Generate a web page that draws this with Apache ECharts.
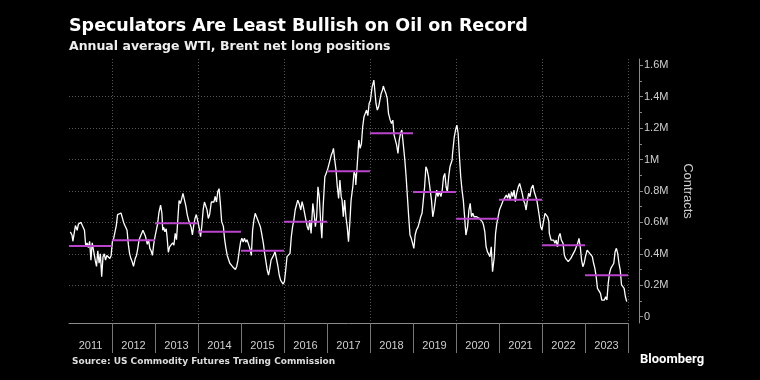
<!DOCTYPE html>
<html><head><meta charset="utf-8">
<script src="https://cdn.jsdelivr.net/npm/echarts@6/dist/echarts.min.js"></script>
<style>html,body{margin:0;padding:0;background:#000;}#chart{width:760px;height:380px;}</style>
</head><body><div id="chart"></div>
<script>
// Year categories and annual average net long (millions of contracts)
const yearLabels = ['2011','2012','2013','2014','2015','2016','2017','2018','2019','2020','2021','2022','2023'];
const annualAvgM = [0.450,0.487,0.595,0.540,0.420,0.605,0.926,1.168,0.793,0.624,0.745,0.455,0.264];
// y-axis tick labels (millions)
const yTickValues = [0,0.2,0.4,0.6,0.8,1,1.2,1.4,1.6];
// weekly positions (decimal year) and net long (millions of contracts)
const weekPos = [
2011.03,2011.07,2011.09,2011.12,2011.15,2011.19,2011.22,2011.25,2011.28,2011.31,2011.34,2011.36,2011.39,2011.42,2011.45,2011.48,2011.51,2011.54,2011.57,2011.61,2011.64,2011.67,2011.70,2011.73,2011.76,2011.79,2011.82,2011.85,2011.88,2011.92,2011.95,2011.98,
2012.01,2012.04,2012.07,2012.10,2012.13,2012.16,2012.21,2012.24,2012.27,2012.30,2012.33,2012.35,2012.38,2012.41,2012.44,2012.47,2012.50,2012.54,2012.57,2012.60,2012.63,2012.66,2012.69,2012.72,2012.75,2012.78,2012.82,2012.85,2012.88,2012.91,2012.94,2012.97,
2013.00,2013.03,2013.06,2013.09,2013.13,2013.16,2013.18,2013.20,2013.23,2013.26,2013.28,2013.31,2013.34,2013.37,2013.41,2013.44,2013.47,2013.50,2013.53,2013.56,2013.59,2013.62,2013.65,2013.68,2013.72,2013.75,2013.78,2013.81,2013.84,2013.87,2013.90,2013.93,2013.96,2013.99,
2014.03,2014.06,2014.09,2014.12,2014.15,2014.18,2014.21,2014.24,2014.27,2014.31,2014.34,2014.37,2014.40,2014.43,2014.46,2014.49,2014.52,2014.55,2014.59,2014.62,2014.65,2014.68,2014.71,2014.74,2014.77,2014.80,2014.83,2014.87,2014.90,2014.93,2014.96,2014.99,
2015.02,2015.05,2015.08,2015.11,2015.14,2015.17,2015.21,2015.24,2015.27,2015.30,2015.33,2015.36,2015.39,2015.42,2015.45,2015.48,2015.52,2015.55,2015.58,2015.61,2015.64,2015.67,2015.70,2015.73,2015.76,2015.79,2015.83,2015.86,2015.89,2015.92,2015.95,2015.98,
2016.01,2016.04,2016.07,2016.11,2016.14,2016.17,2016.20,2016.23,2016.26,2016.29,2016.32,2016.35,2016.39,2016.42,2016.45,2016.48,2016.51,2016.54,2016.57,2016.60,2016.63,2016.67,2016.70,2016.73,2016.76,2016.79,2016.82,2016.85,2016.88,2016.91,2016.95,2016.98,
2017.01,2017.04,2017.07,2017.10,2017.13,2017.15,2017.18,2017.21,2017.24,2017.27,2017.30,2017.33,2017.35,2017.38,2017.41,2017.44,2017.47,2017.50,2017.53,2017.56,2017.60,2017.63,2017.66,2017.67,2017.70,2017.74,2017.77,2017.80,2017.83,2017.86,2017.89,2017.92,2017.95,2017.98,
2018.01,2018.05,2018.09,2018.11,2018.14,2018.17,2018.20,2018.23,2018.26,2018.29,2018.31,2018.34,2018.37,2018.40,2018.43,2018.47,2018.50,2018.53,2018.56,2018.59,2018.62,2018.65,2018.68,2018.71,2018.74,2018.78,2018.81,2018.84,2018.87,2018.90,2018.93,2018.96,2018.99,
2019.02,2019.05,2019.08,2019.12,2019.15,2019.18,2019.21,2019.24,2019.27,2019.30,2019.33,2019.36,2019.40,2019.43,2019.46,2019.49,2019.52,2019.55,2019.58,2019.61,2019.65,2019.68,2019.71,2019.74,2019.77,2019.80,2019.83,2019.86,2019.89,2019.91,2019.92,2019.96,2019.99,
2020.02,2020.05,2020.08,2020.11,2020.14,2020.17,2020.20,2020.23,2020.27,2020.30,2020.33,2020.36,2020.39,2020.42,2020.45,2020.48,2020.51,2020.54,2020.58,2020.61,2020.64,2020.67,2020.70,2020.73,2020.76,2020.79,2020.82,2020.85,2020.89,2020.92,2020.95,2020.98,
2021.01,2021.04,2021.07,2021.10,2021.13,2021.17,2021.20,2021.23,2021.26,2021.29,2021.32,2021.35,2021.38,2021.41,2021.45,2021.48,2021.51,2021.54,2021.57,2021.60,2021.63,2021.66,2021.69,2021.72,2021.75,2021.79,2021.82,2021.85,2021.88,2021.91,2021.94,2021.97,
2022.00,2022.04,2022.07,2022.10,2022.13,2022.16,2022.17,2022.21,2022.24,2022.27,2022.30,2022.33,2022.36,2022.39,2022.42,2022.45,2022.49,2022.52,2022.55,2022.58,2022.61,2022.64,2022.67,2022.70,2022.73,2022.77,2022.80,2022.83,2022.86,2022.89,2022.92,2022.95,2022.98,
2023.01,2023.05,2023.08,2023.11,2023.14,2023.17,2023.20,2023.23,2023.26,2023.29,2023.33,2023.36,2023.39,2023.42,2023.45,2023.48,2023.51,2023.54,2023.57,2023.60,2023.64,2023.67,2023.70,2023.73,2023.76,2023.79,2023.82,2023.85,2023.88,2023.91,2023.94,2023.97
];
const netLongM = [
0.54,0.52,0.48,0.53,0.58,0.55,0.59,0.58,0.60,0.58,0.59,0.55,0.445,0.47,0.44,0.48,0.36,0.47,0.48,0.36,0.32,0.42,0.34,0.40,0.255,0.38,0.40,0.36,0.39,0.40,0.37,0.39,
0.48,0.50,0.54,0.58,0.65,0.66,0.66,0.65,0.60,0.58,0.59,0.55,0.46,0.40,0.37,0.35,0.32,0.37,0.39,0.435,0.49,0.51,0.50,0.55,0.54,0.51,0.46,0.49,0.435,0.42,0.39,0.46,
0.51,0.55,0.59,0.66,0.71,0.66,0.55,0.57,0.54,0.56,0.51,0.41,0.445,0.435,0.47,0.455,0.53,0.49,0.615,0.74,0.72,0.75,0.785,0.75,0.70,0.65,0.615,0.625,0.57,0.52,0.58,0.625,0.65,0.615,
0.56,0.51,0.58,0.68,0.73,0.74,0.68,0.625,0.65,0.73,0.74,0.73,0.765,0.73,0.795,0.815,0.72,0.605,0.575,0.49,0.435,0.39,0.38,0.34,0.33,0.32,0.31,0.30,0.32,0.36,0.42,0.475,
0.50,0.475,0.50,0.475,0.49,0.465,0.43,0.39,0.55,0.615,0.658,0.668,0.615,0.594,0.573,0.53,0.467,0.403,0.35,0.297,0.265,0.308,0.361,0.371,0.392,0.414,0.361,0.318,0.265,0.233,0.223,0.208,
0.223,0.297,0.382,0.39,0.403,0.509,0.573,0.615,0.679,0.711,0.742,0.721,0.679,0.732,0.70,0.658,0.615,0.573,0.551,0.615,0.53,0.721,0.658,0.573,0.636,0.827,0.764,0.615,0.499,0.70,0.891,0.912,
0.933,0.965,0.997,1.029,1.05,1.071,0.997,0.933,0.827,0.753,0.87,0.764,0.742,0.636,0.742,0.636,0.573,0.477,0.594,0.742,0.827,0.922,0.90,0.838,0.954,1.124,1.071,1.10,1.209,1.272,1.294,1.315,1.28,1.357,
1.378,1.463,1.506,1.495,1.357,1.315,1.336,1.378,1.421,1.442,1.468,1.442,1.421,1.389,1.294,1.251,1.230,1.251,1.156,1.145,1.092,1.039,1.124,1.167,1.188,1.081,0.997,0.891,0.763,0.636,0.52,0.499,0.488,
0.435,0.52,0.552,0.573,0.583,0.636,0.658,0.742,0.827,0.954,0.933,0.891,0.88,0.742,0.636,0.68,0.742,0.806,0.764,0.795,0.764,0.806,0.891,0.912,0.827,0.795,0.891,0.954,0.965,0.997,1.039,1.145,1.188,
1.219,1.166,1.018,0.891,0.806,0.742,0.636,0.52,0.573,0.679,0.721,0.636,0.658,0.636,0.647,0.636,0.647,0.626,0.615,0.605,0.583,0.541,0.445,0.414,0.403,0.382,0.445,0.286,0.38,0.53,0.594,0.636,
0.679,0.70,0.721,0.742,0.753,0.774,0.753,0.785,0.742,0.795,0.764,0.806,0.732,0.785,0.827,0.848,0.838,0.785,0.742,0.721,0.679,0.742,0.785,0.764,0.817,0.838,0.795,0.785,0.742,0.689,0.636,0.573,
0.552,0.615,0.658,0.668,0.636,0.605,0.53,0.488,0.477,0.488,0.467,0.488,0.445,0.509,0.53,0.488,0.467,0.392,0.371,0.382,0.35,0.34,0.371,0.361,0.403,0.424,0.435,0.467,0.499,0.445,0.361,0.318,0.34,
0.382,0.424,0.424,0.403,0.414,0.382,0.34,0.308,0.255,0.18,0.191,0.149,0.106,0.117,0.106,0.127,0.106,0.212,0.276,0.308,0.297,0.34,0.414,0.435,0.403,0.34,0.297,0.202,0.191,0.18,0.127,0.096
];

const lineData = weekPos.map((x, i) => [x, netLongM[i]]);
const avgData = [];
yearLabels.forEach((y, i) => {
  const s = Number(y);
  avgData.push([s, annualAvgM[i]], [s + 1, annualAvgM[i]], [s + 1, '-']);
});

const axisGrey = '#8a8a8a';
const textGrey = '#cfcfcf';
const chart = echarts.init(document.getElementById('chart'));
chart.setOption({
  backgroundColor: '#000',
  animation: false,
  title: [
    {text: 'Speculators Are Least Bullish on Oil on Record', left: 69, top: 17, padding: 0,
     textStyle: {color: '#fff', fontSize: 17.5, fontWeight: 'bold', fontFamily: 'DejaVu Sans'}},
    {text: 'Annual average WTI, Brent net long positions', left: 69, top: 40, padding: 0,
     textStyle: {color: '#eee', fontSize: 12.5, fontWeight: 'bold', fontFamily: 'DejaVu Sans'}},
    {text: 'Source: US Commodity Futures Trading Commission', left: 72, top: 357, padding: 0,
     textStyle: {color: '#ddd', fontSize: 9, fontWeight: 'bold', fontFamily: 'DejaVu Sans'}},
    {text: 'Bloomberg', left: 640, top: 353, padding: 0,
     textStyle: {color: '#fff', fontSize: 13, fontWeight: 'bold', fontFamily: 'Roboto'}}
  ],
  grid: {left: 69, right: 132, top: 59, bottom: 57, containLabel: false},
  xAxis: [
    {type: 'value', min: 2011, max: 2024, show: false},
    {type: 'category', data: yearLabels, boundaryGap: true, position: 'bottom',
     axisLine: {show: true, onZero: false, lineStyle: {color: axisGrey}},
     axisTick: {show: true, interval: (i) => i > 0, length: 30, lineStyle: {color: '#777'}},
     axisLabel: {interval: 0, color: textGrey, fontSize: 11, fontFamily: 'Liberation Sans', margin: 17},
     splitLine: {show: true, interval: (i) => i % 2 === 1, lineStyle: {color: '#555', type: [1, 2]}}}
  ],
  yAxis: {
    type: 'value', position: 'right', offset: 11, min: -0.04, max: 1.64, splitNumber: 8,
    axisLine: {show: true, onZero: false, lineStyle: {color: axisGrey}},
    axisTick: {show: true, length: 4, customValues: yTickValues, lineStyle: {color: axisGrey}},
    minorTick: {show: true, splitNumber: 2, length: 3, lineStyle: {color: axisGrey}},
    axisLabel: {customValues: yTickValues, color: textGrey, fontSize: 11, fontFamily: 'Liberation Sans', margin: 5,
      formatter: (v) => v === 0 ? '0' : (+v.toFixed(1)) + 'M'},
    splitLine: {show: true, showMinLine: false, showMaxLine: false, lineStyle: {color: '#555', type: [1, 2]}},
    name: 'Contracts', nameLocation: 'middle', nameRotate: -90, nameGap: 42,
    nameTextStyle: {color: textGrey, fontSize: 13, fontFamily: 'Liberation Sans'}
  },
  series: [
    {type: 'line', xAxisIndex: 0, yAxisIndex: 0, data: lineData, symbol: 'none', silent: true,
     lineStyle: {color: '#ffffff', width: 1.3}, z: 2},
    {type: 'line', xAxisIndex: 0, yAxisIndex: 0, data: avgData, symbol: 'none', silent: true, connectNulls: false,
     lineStyle: {color: '#bb44cc', width: 2}, z: 3}
  ]
});
</script></body></html>
